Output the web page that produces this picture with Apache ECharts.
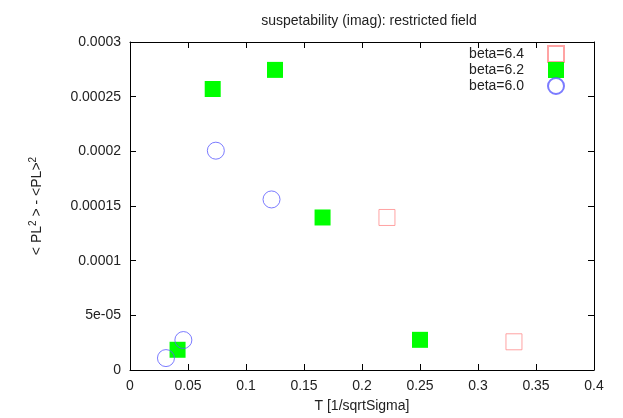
<!DOCTYPE html>
<html>
<head>
<meta charset="utf-8">
<script src="https://cdn.jsdelivr.net/npm/echarts@6/dist/echarts.min.js"></script>
<style>html,body{margin:0;padding:0;background:#fff}#c{width:623px;height:418px}</style>
</head>
<body>
<div id="c"></div>
<script>
const titleText = 'suspetability (imag): restricted field';
const xName = 'T [1/sqrtSigma]';
const seriesNames = ['beta=6.4', 'beta=6.2', 'beta=6.0'];
const beta64 = [[0.2215, 0.0001395], [0.331, 0.0000258]];
const beta62 = [[0.041, 0.0000185], [0.0713, 0.000257], [0.125, 0.0002745], [0.166, 0.0001395], [0.25, 0.0000276]];
const beta60 = [[0.031, 0.0000109], [0.046, 0.0000274], [0.074, 0.0002006], [0.122, 0.000156]];
const yTickLabels = ['0', '5e-05', '0.0001', '0.00015', '0.0002', '0.00025', '0.0003'];

const FONT = 'Liberation Sans';
const FS = 14;
const TXT = '#222';
const chart = echarts.init(document.getElementById('c'), null, {renderer: 'canvas'});
const axisCommon = {
  axisLine: {show: true, onZero: false, lineStyle: {color: '#000', width: 1}},
  axisTick: {show: true, inside: true, length: 6, lineStyle: {color: '#000'}},
  splitLine: {show: false}
};
chart.setOption({
  animation: false,
  backgroundColor: '#fff',
  title: {
    text: titleText, left: 364, top: 9, textAlign: 'center',
    textStyle: {fontFamily: FONT, fontSize: FS, fontWeight: 'normal', color: TXT}
  },
  grid: {left: 130, right: 29, top: 42, bottom: 47, show: false},
  legend: {
    orient: 'vertical', right: 53, top: 40, align: 'right', padding: 5,
    itemWidth: 16, itemHeight: 16, itemGap: -1,
    textStyle: {fontFamily: FONT, fontSize: FS, color: TXT, lineHeight: 15, padding: [0, 19, 0, 0]},
    data: [
      {name: seriesNames[0], icon: 'rect'},
      {name: seriesNames[1], icon: 'rect'},
      {name: seriesNames[2], icon: 'circle'}
    ]
  },
  xAxis: [
    Object.assign({
      type: 'value', min: 0, max: 0.4, interval: 0.05, position: 'bottom',
      name: xName, nameLocation: 'middle', nameGap: 29,
      nameTextStyle: {fontFamily: FONT, fontSize: FS, color: TXT},
      axisLabel: {fontFamily: FONT, fontSize: FS, color: TXT, margin: 9}
    }, axisCommon),
    Object.assign({
      type: 'value', min: 0, max: 0.4, interval: 0.05, position: 'top',
      axisLabel: {show: false}
    }, axisCommon)
  ],
  yAxis: [
    Object.assign({
      type: 'value', min: 0, max: 0.0003, interval: 0.00005, position: 'left',
      name: '< PL{sup|2} > - <PL>{sup|2}', nameLocation: 'middle', nameGap: 84, nameRotate: 90,
      nameTextStyle: {fontFamily: FONT, fontSize: FS, color: TXT,
        rich: {sup: {fontFamily: FONT, fontSize: 10, color: TXT, verticalAlign: 'bottom', padding: [0, 0, 8, 0]}}},
      axisLabel: {fontFamily: FONT, fontSize: FS, color: TXT, margin: 9,
        formatter: function (v, i) { return yTickLabels[i]; }}
    }, axisCommon),
    Object.assign({
      type: 'value', min: 0, max: 0.0003, interval: 0.00005, position: 'right',
      axisLabel: {show: false}
    }, axisCommon)
  ],
  series: [
    {name: seriesNames[0], type: 'scatter', data: beta64, symbol: 'rect', symbolSize: 16,
      itemStyle: {color: 'rgba(255,255,255,0)', borderColor: '#ff8c8c', borderWidth: 1}},
    {name: seriesNames[1], type: 'scatter', data: beta62, symbol: 'rect', symbolSize: 16,
      itemStyle: {color: '#00ff00', opacity: 1, borderColor: '#00ff00', borderWidth: 0}},
    {name: seriesNames[2], type: 'scatter', data: beta60, symbol: 'circle', symbolSize: 17,
      itemStyle: {color: 'rgba(255,255,255,0)', borderColor: '#5a5aff', borderWidth: 1}}
  ]
});
</script>
</body>
</html>
